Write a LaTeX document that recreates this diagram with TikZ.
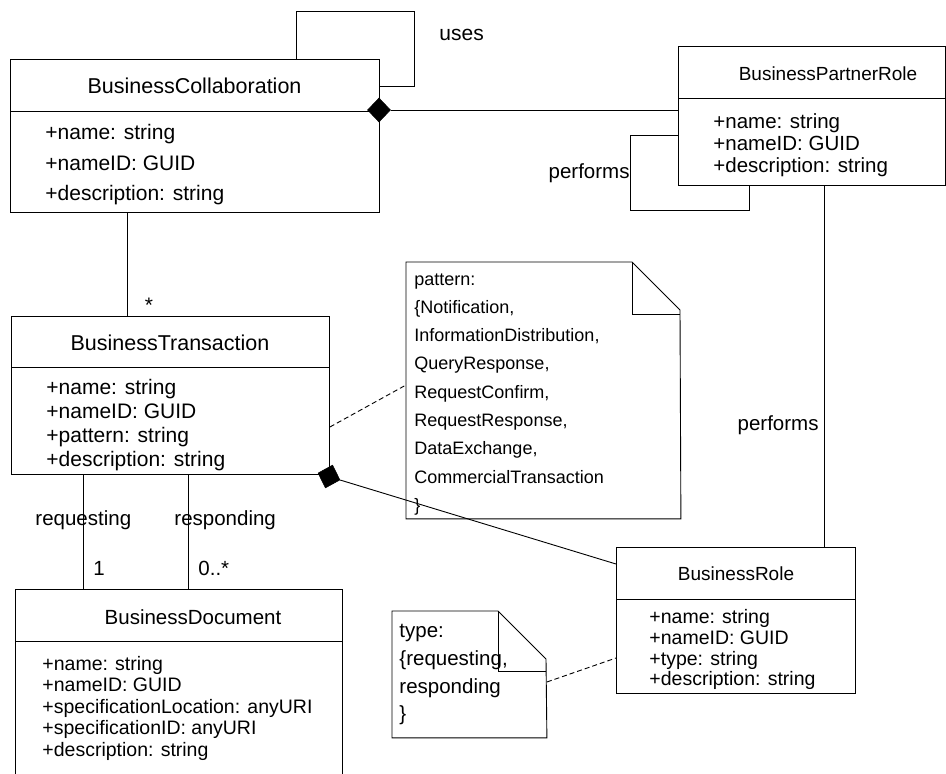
\documentclass[tikz,border=0pt]{standalone}
\usepackage{fontspec}
\setmainfont{Liberation Sans}
\usetikzlibrary{shapes.geometric}
\begin{document}
\begin{tikzpicture}[x=1pt,y=-1pt,line width=0.9pt,
  box/.style={draw, anchor=north west, inner sep=0pt},
  ttl/.style={inner sep=0pt, anchor=base},
  attr/.style={inner sep=0pt, anchor=base west},
  lbl/.style={inner sep=0pt, font=\fontsize{20.5}{24}\selectfont},
  agg/.style={diamond, fill=black, draw=black, line width=0.6pt, inner sep=0pt, minimum width=23pt, minimum height=24pt},
  dsh/.style={dash pattern=on 5pt off 3pt},
  notebox/.style={inner sep=0pt, anchor=north west}]
\useasboundingbox (0,0) rectangle (946,774);

% ---------- BusinessCollaboration
\node[box, minimum width=369pt, minimum height=153pt] (bc) at (10,59) {};
\draw (10,111) -- (379,111);
\node[ttl, font=\fontsize{21.5}{26}\selectfont] (bct) at (194.5,93) {BusinessCollaboration};
\begin{scope}[every node/.style={attr, font=\fontsize{21}{24}\selectfont}]
\node (bca1) at (45,139) {+name: string};
\node (bca2) at (45,170) {+nameID: GUID};
\node (bca3) at (45,200) {+description: string};
\end{scope}

% uses loop
\draw (bc.north -| 296,0) |- (414,11) |- (bc.east |- 0,86);
\node[lbl, anchor=base west, font=\fontsize{21}{24}\selectfont] (uses) at (439,40) {uses};

% ---------- BusinessPartnerRole
\node[box, minimum width=267pt, minimum height=139pt] (bpr) at (678,46) {};
\draw (678,98) -- (945,98);
\node[ttl, font=\fontsize{19}{23}\selectfont] (bprt) at (828,80) {BusinessPartnerRole};
\begin{scope}[every node/.style={attr, font=\fontsize{20.5}{24}\selectfont}]
\node (bpra1) at (713,128) {+name: string};
\node (bpra2) at (713,150) {+nameID: GUID};
\node (bpra3) at (713,172) {+description: string};
\end{scope}

% aggregation BC -- BPR
\node[agg] (bcd) at (379,110) {};
\draw (bcd.east) -- (bpr.west |- bcd.east);

% performs loop
\draw (bpr.west |- 0,135) -| (630,210) -| (bpr.south -| 749,0);
\node[lbl, anchor=base east] (perf1) at (630,178) {performs};

% ---------- BusinessTransaction
\node[box, minimum width=318pt, minimum height=158pt] (bt) at (11,316) {};
\draw (11,367) -- (329,367);
\node[ttl, font=\fontsize{21.5}{26}\selectfont] (btt) at (170,350) {BusinessTransaction};
\begin{scope}[every node/.style={attr, font=\fontsize{21}{24}\selectfont}]
\node (bta1) at (46,394) {+name: string};
\node (bta2) at (46,418) {+nameID: GUID};
\node (bta3) at (46,442) {+pattern: string};
\node (bta4) at (46,466) {+description: string};
\end{scope}

% BC -- BT
\draw (bc.south -| 127,0) -- (bt.north -| 127,0);
\node[lbl, font=\fontsize{21}{24}\selectfont] (star) at (149,305) {*};

% ---------- BusinessRole
\node[box, minimum width=239pt, minimum height=146pt] (br) at (616,547) {};
\draw (616,599) -- (855,599);
\node[ttl, font=\fontsize{19}{23}\selectfont] (brt) at (736,580) {BusinessRole};
\begin{scope}[every node/.style={attr, font=\fontsize{19.5}{24}\selectfont}]
\node (bra1) at (649,623) {+name: string};
\node (bra2) at (649,644) {+nameID: GUID};
\node (bra3) at (649,665) {+type: string};
\node (bra4) at (649,685) {+description: string};
\end{scope}

% BPR -- BR
\draw (bpr.south -| 824,0) -- (br.north -| 824,0);
\node[lbl, anchor=base east] (perf2) at (819,430) {performs};

% aggregation BT -- BR
\node[agg, rotate=-17.5] (btd) at (329,476.5) {};
\draw (btd.east) -- (br.west |- 0,564);

% ---------- BusinessDocument
\node[box, minimum width=327pt, minimum height=195pt] (bd) at (15,589) {};
\draw (15,641) -- (342,641);
\node[ttl, font=\fontsize{20.5}{25}\selectfont] (bdt) at (193,624) {BusinessDocument};
\begin{scope}[every node/.style={attr, font=\fontsize{19.5}{24}\selectfont}]
\node (bda1) at (42,670) {+name: string};
\node (bda2) at (42,691.5) {+nameID: GUID};
\node (bda3) at (42,713) {+specificationLocation: anyURI};
\node (bda4) at (42,734.5) {+specificationID: anyURI};
\node (bda5) at (42,756) {+description: string};
\end{scope}

% BT -- BD
\draw (bt.south -| 83,0) -- (bd.north -| 83,0);
\draw (bt.south -| 188,0) -- (bd.north -| 188,0);
\node[lbl, anchor=base west] (req) at (35,525) {requesting};
\node[lbl, anchor=base west] (resp) at (174,525) {responding};
\node[lbl, anchor=base west] (one) at (93,575) {1};
\node[lbl, anchor=base west] (many) at (198,575) {0..*};

% ---------- pattern note
\node[notebox, minimum width=274pt, minimum height=256pt] (pn) at (406,262) {};
\draw (pn.north west) -- (632,262) -- (680,310) -- (pn.south east) -- (pn.south west) -- cycle;
\draw (632,262) |- (680,314);
\begin{scope}[every node/.style={attr, font=\fontsize{18}{22}\selectfont}]
\node (pn1) at (414,285) {pattern:};
\node (pn2) at (414,313.3) {\{Notification,};
\node (pn3) at (414,341.6) {InformationDistribution,};
\node (pn4) at (414,369.9) {QueryResponse,};
\node (pn5) at (414,398.2) {RequestConfirm,};
\node (pn6) at (414,426.5) {RequestResponse,};
\node (pn7) at (414,454.8) {DataExchange,};
\node (pn8) at (414,483.1) {CommercialTransaction};
\node (pn9) at (414,511.4) {\}};
\end{scope}
\draw[dsh] (bt.east |- 0,427) -- (pn.west |- 0,385);

% ---------- type note
\node[notebox, minimum width=154pt, minimum height=126pt] (tn) at (392,611) {};
\draw (tn.north west) -- (498,611) -- (546,659) -- (tn.south east) -- (tn.south west) -- cycle;
\draw (498,611) |- (546,671);
\begin{scope}[every node/.style={attr, font=\fontsize{20.5}{24}\selectfont}]
\node (tn1) at (399,637) {type:};
\node (tn2) at (399,665) {\{requesting,};
\node (tn3) at (399,693) {responding};
\node (tn4) at (399,720) {\}};
\end{scope}
\draw[dsh] (tn.east |- 0,682) -- (br.west |- 0,658);

\end{tikzpicture}
\end{document}
